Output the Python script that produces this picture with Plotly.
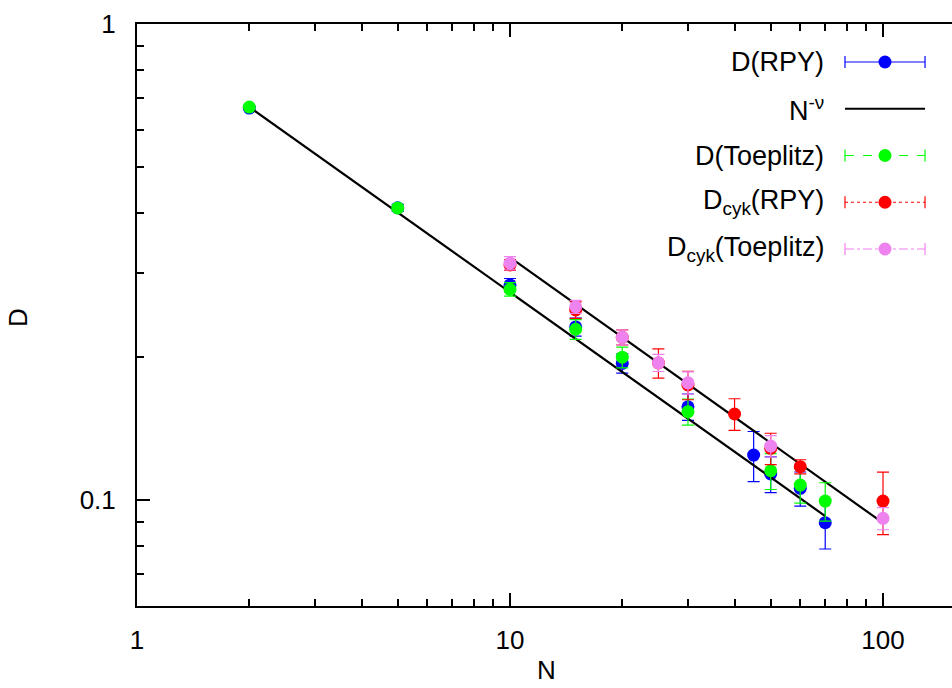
import plotly.graph_objects as go

# ---------------- data ----------------
N_rpy = [2, 5, 10, 15, 20, 30, 45, 50, 60, 70]
D_rpy = [0.666, 0.411, 0.283, 0.231, 0.1937, 0.157, 0.1243, 0.1134, 0.1058, 0.0896]
E_rpy = [0.005, 0.007, 0.009, 0.010, 0.009, 0.010, 0.015, 0.0098, 0.0087, 0.0107]

N_toe = [2, 5, 10, 15, 20, 30, 50, 60, 70]
D_toe = [0.669, 0.4107, 0.2771, 0.2284, 0.1995, 0.1533, 0.1152, 0.1075, 0.0995]
E_toe = [0.004, 0.006, 0.009, 0.011, 0.010, 0.0097, 0.010, 0.009, 0.0092]

N_cyk_rpy = [10, 15, 20, 25, 30, 40, 50, 60, 100]
D_cyk_rpy = [0.3118, 0.2507, 0.2197, 0.194, 0.1744, 0.1516, 0.1284, 0.1175, 0.0995]
E_cyk_rpy = [0.008, 0.010, 0.008, 0.0137, 0.012, 0.0116, 0.0097, 0.004, 0.0149]

N_cyk_toe = [10, 15, 20, 25, 30, 50, 100]
D_cyk_toe = [0.3144, 0.2547, 0.2197, 0.1942, 0.1763, 0.1298, 0.0915]
E_cyk_toe = [0.010, 0.008, 0.008, 0.008, 0.0095, 0.0067, 0.0049]

# power-law fit lines N^-nu (end points)
fit_N = [2, 70]
fit_D = [0.669, 0.0925]
fit_cyk_N = [10, 100]
fit_cyk_D = [0.3235, 0.0895]

legend_labels = ["D(RPY)", "N<sup>-ν</sup>", "D(Toeplitz)",
                 "D<sub>cyk</sub>(RPY)", "D<sub>cyk</sub>(Toeplitz)"]

x_major = [1, 10, 100]
x_minor = [2, 3, 4, 5, 6, 7, 8, 9, 20, 30, 40, 50, 60, 70, 80, 90]
y_major = [0.1, 1]
y_minor = [0.06, 0.07, 0.08, 0.09, 0.2, 0.3, 0.4, 0.5, 0.6, 0.7, 0.8, 0.9]

# ---------------- style ----------------
BLUE = "#0000ff"
GREEN = "#00ff00"
RED = "#ff0000"
VIOLET = "#ee82ee"
FONT = "Liberation Sans, Arial, sans-serif"
FS = 26
MS = 13

fig = go.Figure()


def series(x, y, e, color):
    fig.add_trace(go.Scatter(
        x=x, y=y, mode="markers",
        marker=dict(color=color, size=MS, line=dict(width=0)),
        error_y=dict(type="data", array=e, visible=True, color=color,
                     thickness=1.2, width=6),
        showlegend=False, hoverinfo="skip", cliponaxis=False))


series(N_rpy, D_rpy, E_rpy, BLUE)
fig.add_trace(go.Scatter(x=fit_N, y=fit_D, mode="lines",
                         line=dict(color="black", width=2.2),
                         showlegend=False, hoverinfo="skip"))
fig.add_trace(go.Scatter(x=fit_cyk_N, y=fit_cyk_D, mode="lines",
                         line=dict(color="black", width=2.2),
                         showlegend=False, hoverinfo="skip"))
series(N_toe, D_toe, E_toe, GREEN)
series(N_cyk_rpy, D_cyk_rpy, E_cyk_rpy, RED)
series(N_cyk_toe, D_cyk_toe, E_cyk_toe, VIOLET)

# ---------------- gnuplot-like key (drawn on an overlay axis) ----------------
KEY_TOP = 0.9347       # paper y of first key row
KEY_BOTTOM = 0.6134    # paper y of last key row
KEY_X0, KEY_X1 = 0.8687, 0.9669   # paper x of key sample ends
KEY_TEXT_X = 0.8454
row_step = (KEY_TOP - KEY_BOTTOM) / 4
x_unit = KEY_X1 - KEY_X0
key_styles = [
    (BLUE, "solid", True, True),
    ("black", "solid", False, False),
    (GREEN, "dash", True, True),
    (RED, "dot", True, True),
    (VIOLET, "dashdot", True, True),
]
for row, (col, dash, has_marker, has_caps) in enumerate(key_styles):
    lw = 1.2 if has_marker else 2.2
    fig.add_trace(go.Scatter(
        x=[0, 1], y=[row, row], mode="lines", xaxis="x2", yaxis="y2",
        line=dict(color=col, width=lw, dash=dash),
        error_y=dict(type="constant", value=0.13, visible=has_caps,
                     color=col, thickness=1.2, width=0),
        showlegend=False, hoverinfo="skip", cliponaxis=False))
    if has_marker:
        fig.add_trace(go.Scatter(
            x=[0.5], y=[row], mode="markers", xaxis="x2", yaxis="y2",
            marker=dict(color=col, size=MS),
            showlegend=False, hoverinfo="skip", cliponaxis=False))
    ypos = KEY_TOP - row * row_step
    fig.add_annotation(x=KEY_TEXT_X, y=ypos, xref="paper", yref="paper",
                       text=legend_labels[row],
                       showarrow=False, xanchor="right", yanchor="middle",
                       font=dict(family=FONT, size=27, color="black"))

# axis titles
fig.add_annotation(x=0.503, y=-0.11, xref="paper", yref="paper", text="N",
                   showarrow=False, xanchor="center", yanchor="middle",
                   font=dict(family=FONT, size=FS, color="black"))
fig.add_annotation(x=-0.146, y=0.495, xref="paper", yref="paper", text="D",
                   textangle=-90, showarrow=False, xanchor="center", yanchor="middle",
                   font=dict(family=FONT, size=FS, color="black"))

fig.update_layout(
    width=952, height=688,
    margin=dict(l=137, r=0, t=24, b=82),
    paper_bgcolor="white", plot_bgcolor="white",
    font=dict(family=FONT, size=FS, color="black"),
    showlegend=False,
    xaxis=dict(
        type="log", range=[0, 2.185], showgrid=False, zeroline=False,
        showline=True, linecolor="black", linewidth=2, mirror="ticks",
        tickmode="array", tickvals=x_major, ticktext=[str(v) for v in x_major],
        ticks="inside", ticklen=13, tickwidth=2, tickcolor="black",
        ticklabelstandoff=10,
        minor=dict(tickmode="array", tickvals=x_minor, ticks="inside",
                   ticklen=7, tickwidth=1.5, tickcolor="black", showgrid=False),
        tickfont=dict(family=FONT, size=FS),
    ),
    yaxis=dict(
        type="log", range=[-1.2227, 0], showgrid=False, zeroline=False,
        showline=True, linecolor="black", linewidth=2, mirror=False,
        tickmode="array", tickvals=y_major, ticktext=["0.1", "1"],
        ticks="inside", ticklen=13, tickwidth=2, tickcolor="black",
        ticklabelstandoff=14,
        minor=dict(tickmode="array", tickvals=y_minor, ticks="inside",
                   ticklen=7, tickwidth=1.5, tickcolor="black", showgrid=False),
        tickfont=dict(family=FONT, size=FS),
    ),
    xaxis2=dict(domain=[KEY_X0 - 0.1 * x_unit, KEY_X1 + 0.1 * x_unit],
                range=[-0.1, 1.1], visible=False, anchor="y2", fixedrange=True),
    yaxis2=dict(domain=[KEY_BOTTOM - 0.5 * row_step, KEY_TOP + 0.5 * row_step],
                range=[4.5, -0.5], visible=False, anchor="x2", fixedrange=True),
)

fig.write_html("out.html")
